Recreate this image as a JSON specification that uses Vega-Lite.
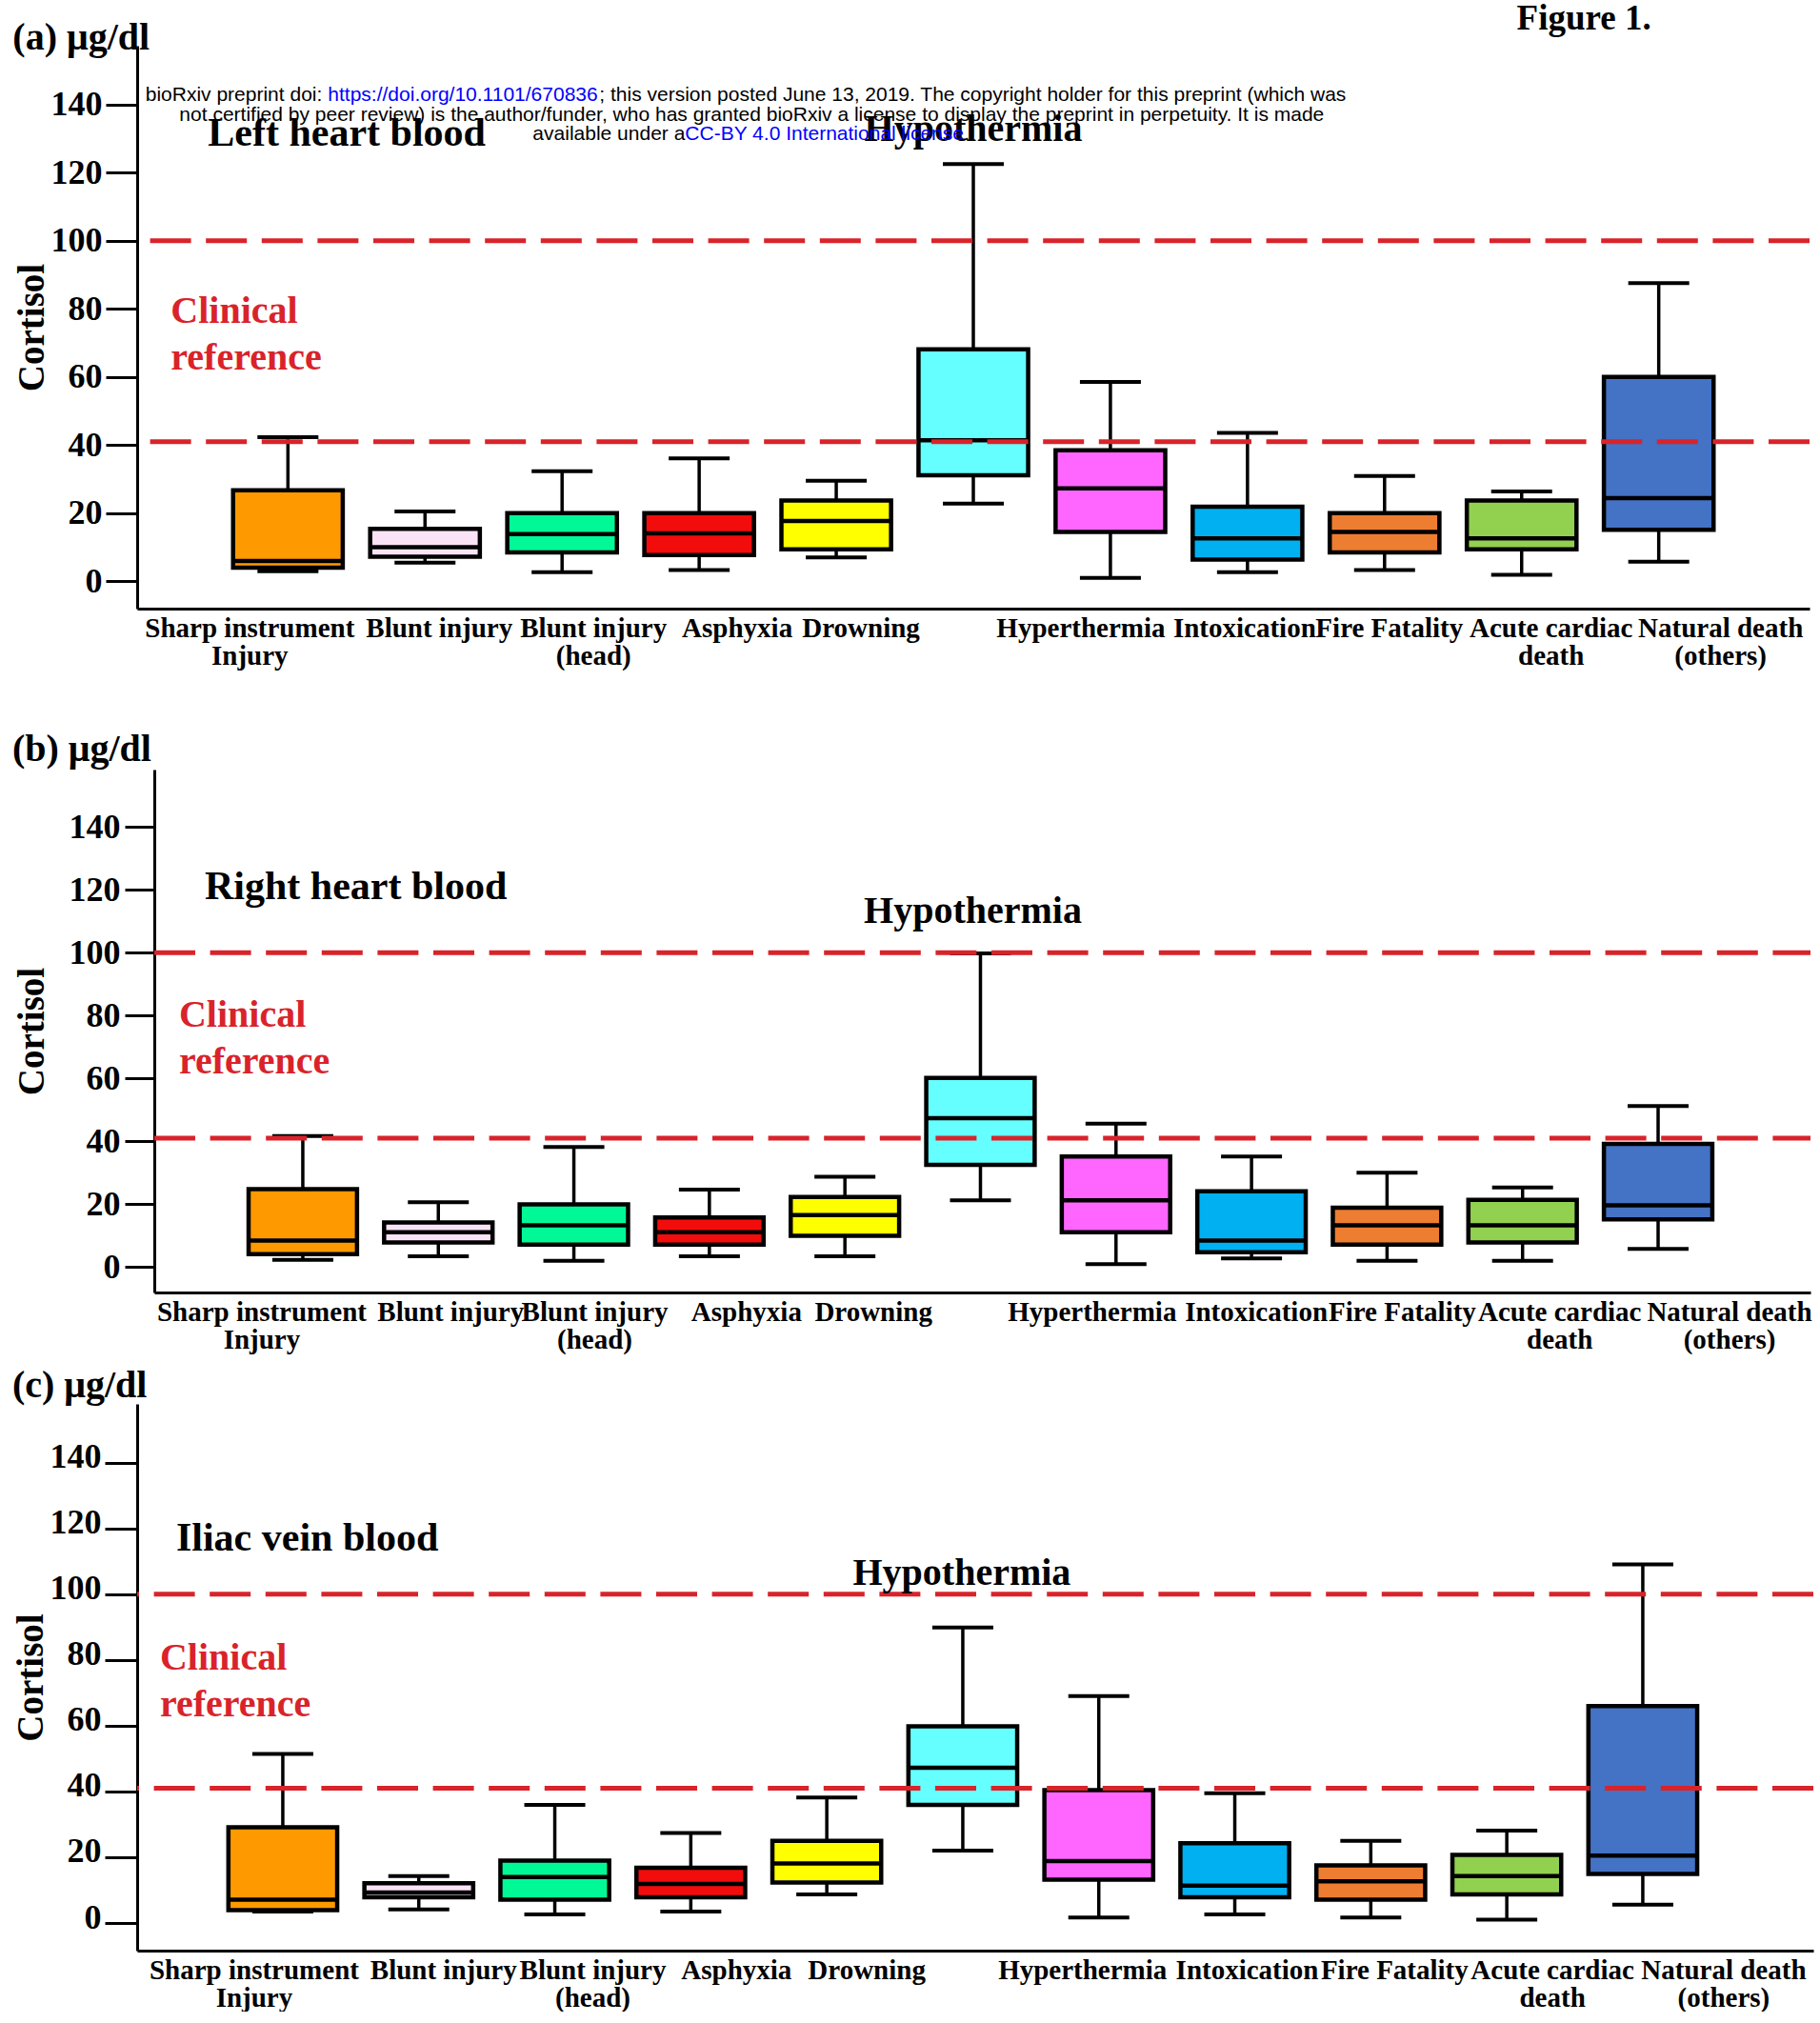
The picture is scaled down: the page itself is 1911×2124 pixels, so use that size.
{
  "$schema": "https://vega.github.io/schema/vega-lite/v6.json",
  "padding": {"left": 12, "top": 0, "right": 0, "bottom": 0},
  "background": "white",
  "spacing": 14,
  "resolve": {"scale": {"x": "independent", "y": "independent"}},
  "config": {
    "view": {"stroke": null},
    "axis": {"grid": false, "domainColor": "black", "domainWidth": 3, "tickColor": "black", "tickWidth": 3, "labelFont": "Liberation Serif", "labelFontWeight": "bold", "labelColor": "black", "titleFont": "Liberation Serif", "titleFontWeight": "bold", "titleColor": "black"},
    "text": {"font": "Liberation Serif", "fontWeight": "bold", "baseline": "alphabetic", "color": "black"}
  },
  "datasets": {
    "a": [
      {"cause": "Sharp instrument Injury", "min": 3, "q1": 4, "median": 6, "q3": 26.7, "max": 42.3},
      {"cause": "Blunt injury", "min": 5.5, "q1": 7.2, "median": 10, "q3": 15.4, "max": 20.5},
      {"cause": "Blunt injury (head)", "min": 2.7, "q1": 8.5, "median": 13.9, "q3": 20, "max": 32.3},
      {"cause": "Asphyxia", "min": 3.3, "q1": 7.7, "median": 14.1, "q3": 20, "max": 36.1},
      {"cause": "Drowning", "min": 7, "q1": 9.4, "median": 17.7, "q3": 23.7, "max": 29.5},
      {"cause": "Hypothermia", "min": 22.8, "q1": 31.1, "median": 41.4, "q3": 68.1, "max": 122.5},
      {"cause": "Hyperthermia", "min": 1, "q1": 14.5, "median": 27.3, "q3": 38.5, "max": 58.5},
      {"cause": "Intoxication", "min": 2.7, "q1": 6.4, "median": 12.6, "q3": 21.9, "max": 43.6},
      {"cause": "Fire Fatality", "min": 3.3, "q1": 8.5, "median": 14.5, "q3": 20, "max": 30.9},
      {"cause": "Acute cardiac death", "min": 1.9, "q1": 9.4, "median": 12.6, "q3": 23.7, "max": 26.4},
      {"cause": "Natural death (others)", "min": 5.8, "q1": 15.1, "median": 24.4, "q3": 60, "max": 87.5}
    ],
    "b": [
      {"cause": "Sharp instrument Injury", "min": 2.3, "q1": 4.1, "median": 8.4, "q3": 24.8, "max": 41.7},
      {"cause": "Blunt injury", "min": 3.4, "q1": 7.8, "median": 11.1, "q3": 14.2, "max": 20.6},
      {"cause": "Blunt injury (head)", "min": 2, "q1": 7.1, "median": 13.3, "q3": 19.9, "max": 38.2},
      {"cause": "Asphyxia", "min": 3.4, "q1": 7.1, "median": 11.1, "q3": 15.8, "max": 24.6},
      {"cause": "Drowning", "min": 3.4, "q1": 9.9, "median": 16.5, "q3": 22.3, "max": 28.7},
      {"cause": "Hypothermia", "min": 21.2, "q1": 32.5, "median": 47.4, "q3": 60.2, "max": 99.8},
      {"cause": "Hyperthermia", "min": 0.9, "q1": 11.1, "median": 21.2, "q3": 35.2, "max": 45.6},
      {"cause": "Intoxication", "min": 2.7, "q1": 4.7, "median": 8.4, "q3": 24.1, "max": 35.2},
      {"cause": "Fire Fatality", "min": 2, "q1": 7.1, "median": 13.3, "q3": 18.9, "max": 30},
      {"cause": "Acute cardiac death", "min": 2, "q1": 7.8, "median": 13.3, "q3": 21.4, "max": 25.3},
      {"cause": "Natural death (others)", "min": 5.8, "q1": 15.2, "median": 19.6, "q3": 39.2, "max": 51.2}
    ],
    "c": [
      {"cause": "Sharp instrument Injury", "min": 3.5, "q1": 3.9, "median": 7.1, "q3": 29.1, "max": 51.4},
      {"cause": "Blunt injury", "min": 4.1, "q1": 7.8, "median": 9.3, "q3": 12.1, "max": 14.3},
      {"cause": "Blunt injury (head)", "min": 2.6, "q1": 7.1, "median": 14, "q3": 19, "max": 35.9},
      {"cause": "Asphyxia", "min": 3.5, "q1": 7.8, "median": 11.9, "q3": 16.8, "max": 27.4},
      {"cause": "Drowning", "min": 8.7, "q1": 12.3, "median": 18.1, "q3": 25, "max": 38.2},
      {"cause": "Hypothermia", "min": 22, "q1": 35.9, "median": 47.2, "q3": 59.8, "max": 89.9},
      {"cause": "Hyperthermia", "min": 1.7, "q1": 13.2, "median": 18.8, "q3": 40.4, "max": 69},
      {"cause": "Intoxication", "min": 2.6, "q1": 7.8, "median": 11.4, "q3": 24.3, "max": 39.5},
      {"cause": "Fire Fatality", "min": 1.7, "q1": 7.1, "median": 12.7, "q3": 17.5, "max": 25},
      {"cause": "Acute cardiac death", "min": 1, "q1": 8.7, "median": 14.3, "q3": 20.7, "max": 28.1},
      {"cause": "Natural death (others)", "min": 5.6, "q1": 14.9, "median": 20.5, "q3": 66, "max": 109.1}
    ],
    "refs": [{"value": 41}, {"value": 100}]
  },
  "vconcat": [
    {
      "width": 1756, "height": 591,
      "data": {"name": "a"},
      "layer": [
        {"mark": {"type": "rule", "color": "black", "strokeWidth": 3.5},
         "encoding": {
           "x": {"field": "cause", "type": "nominal",
                 "scale": {"type": "band", "domain": ["Sharp instrument Injury", "Blunt injury", "Blunt injury (head)", "Asphyxia", "Drowning", "Hypothermia", "Hyperthermia", "Intoxication", "Fire Fatality", "Acute cardiac death", "Natural death (others)"], "paddingInner": 0.2, "paddingOuter": 0.7, "align": 0.5},
                 "axis": {"title": " ", "titleFontSize": 10, "titlePadding": 40, "ticks": false, "labelAngle": 0, "labelPadding": 6, "labelFontSize": 29, "labelLineHeight": 29, "labelLimit": 0, "labelOverlap": false, "labelBaseline": "top",
                   "labelExpr": "datum.value == 'Hypothermia' ? '' : datum.value == 'Sharp instrument Injury' ? ['Sharp instrument', 'Injury'] : datum.value == 'Blunt injury (head)' ? ['Blunt injury', '(head)'] : datum.value == 'Acute cardiac death' ? ['Acute cardiac', 'death'] : datum.value == 'Natural death (others)' ? ['Natural death', '(others)'] : datum.label",
                   "labelOffset": {"condition": [
                     {"test": "datum.value == 'Sharp instrument Injury'", "value": -40},
                     {"test": "datum.value == 'Blunt injury'", "value": 15},
                     {"test": "datum.value == 'Blunt injury (head)'", "value": 33},
                     {"test": "datum.value == 'Asphyxia'", "value": 40},
                     {"test": "datum.value == 'Drowning'", "value": 26},
                     {"test": "datum.value == 'Hyperthermia'", "value": -31},
                     {"test": "datum.value == 'Intoxication'", "value": -3},
                     {"test": "datum.value == 'Fire Fatality'", "value": 5},
                     {"test": "datum.value == 'Acute cardiac death'", "value": 31},
                     {"test": "datum.value == 'Natural death (others)'", "value": 65}
                   ], "value": 0}}},
           "y": {"field": "min", "type": "quantitative", "scale": {"domain": [-8, 157.2], "nice": false, "zero": false},
                 "axis": {"title": "Cortisol", "values": [0, 20, 40, 60, 80, 100, 120, 140], "tickSize": 33, "labelPadding": 4, "labelFontSize": 36, "titleFontSize": 39, "titlePadding": 0}},
           "y2": {"field": "max"}
         }},
        {"mark": {"type": "bar", "stroke": "black", "strokeWidth": 4.5},
         "encoding": {
           "x": {"field": "cause", "type": "nominal"},
           "y": {"field": "q1", "type": "quantitative"},
           "y2": {"field": "q3"},
           "color": {"field": "cause", "type": "nominal", "legend": null,
                     "scale": {"domain": ["Sharp instrument Injury", "Blunt injury", "Blunt injury (head)", "Asphyxia", "Drowning", "Hypothermia", "Hyperthermia", "Intoxication", "Fire Fatality", "Acute cardiac death", "Natural death (others)"],
                               "range": ["#FF9900", "#FBE3F7", "#00F996", "#F20C0C", "#FFFF00", "#66FFFF", "#FF66FF", "#00B0F0", "#ED7D31", "#92D050", "#4472C4"]}}
         }},
        {"mark": {"type": "tick", "color": "black", "opacity": 1, "thickness": 4.5, "size": 115},
         "encoding": {"x": {"field": "cause", "type": "nominal"}, "y": {"field": "median", "type": "quantitative"}}},
        {"mark": {"type": "tick", "color": "black", "opacity": 1, "thickness": 4, "size": 64},
         "encoding": {"x": {"field": "cause", "type": "nominal"}, "y": {"field": "min", "type": "quantitative"}}},
        {"mark": {"type": "tick", "color": "black", "opacity": 1, "thickness": 4, "size": 64},
         "encoding": {"x": {"field": "cause", "type": "nominal"}, "y": {"field": "max", "type": "quantitative"}}},
        {"data": {"name": "refs"},
         "mark": {"type": "rule", "color": "#D9232A", "strokeWidth": 5, "strokeDash": [43, 15.6]},
         "encoding": {"y": {"field": "value", "type": "quantitative"}}},
        {"data": {"values": [{"t": "(a) μg/dl"}]},
         "mark": {"type": "text", "fontSize": 40, "align": "left", "dx": -289},
         "encoding": {"x": {"datum": "Sharp instrument Injury", "type": "nominal"}, "y": {"datum": 156.1, "type": "quantitative"}, "text": {"field": "t"}}},
        {"data": {"values": [{"t": "Left heart blood"}]},
         "mark": {"type": "text", "fontSize": 42, "align": "left", "dx": -84},
         "encoding": {"x": {"datum": "Sharp instrument Injury", "type": "nominal"}, "y": {"datum": 127.8, "type": "quantitative"}, "text": {"field": "t"}}},
        {"data": {"values": [{"t": "Hypothermia"}]},
         "mark": {"type": "text", "fontSize": 40, "align": "center", "dx": 0},
         "encoding": {"x": {"datum": "Hypothermia", "type": "nominal"}, "y": {"datum": 129.2, "type": "quantitative"}, "text": {"field": "t"}}},
        {"data": {"values": [{"t": "Clinical\nreference"}]},
         "mark": {"type": "text", "fontSize": 40, "align": "left", "dx": -123, "color": "#D9232A", "lineBreak": "\n", "lineHeight": 49},
         "encoding": {"x": {"datum": "Sharp instrument Injury", "type": "nominal"}, "y": {"datum": 75.9, "type": "quantitative"}, "text": {"field": "t"}}},
        {"data": {"values": [{"t": "Figure 1."}]},
         "mark": {"type": "text", "fontSize": 37, "align": "right", "dx": -8},
         "encoding": {"x": {"datum": "Natural death (others)", "type": "nominal"}, "y": {"datum": 162, "type": "quantitative"}, "text": {"field": "t"}}},
        {"data": {"values": [{"t": "bioRxiv preprint doi:"}]},
         "mark": {"type": "text", "font": "Liberation Sans", "fontWeight": "normal", "fontSize": 21, "align": "right", "dx": 36},
         "encoding": {"x": {"datum": "Sharp instrument Injury", "type": "nominal"}, "y": {"datum": 141.0, "type": "quantitative"}, "text": {"field": "t"}}},
        {"data": {"values": [{"t": "https://doi.org/10.1101/670836"}]},
         "mark": {"type": "text", "font": "Liberation Sans", "fontWeight": "normal", "fontSize": 21, "align": "left", "dx": 42, "color": "#0000FF"},
         "encoding": {"x": {"datum": "Sharp instrument Injury", "type": "nominal"}, "y": {"datum": 141.0, "type": "quantitative"}, "text": {"field": "t"}}},
        {"data": {"values": [{"t": "; this version posted June 13, 2019. The copyright holder for this preprint (which was"}]},
         "mark": {"type": "text", "font": "Liberation Sans", "fontWeight": "normal", "fontSize": 21, "align": "left", "dx": 327},
         "encoding": {"x": {"datum": "Sharp instrument Injury", "type": "nominal"}, "y": {"datum": 141.0, "type": "quantitative"}, "text": {"field": "t"}}},
        {"data": {"values": [{"t": "not certified by peer review) is the author/funder, who has granted bioRxiv a license to display the preprint in perpetuity. It is made"}]},
         "mark": {"type": "text", "font": "Liberation Sans", "fontWeight": "normal", "fontSize": 21, "align": "center", "dx": 487},
         "encoding": {"x": {"datum": "Sharp instrument Injury", "type": "nominal"}, "y": {"datum": 135.1, "type": "quantitative"}, "text": {"field": "t"}}},
        {"data": {"values": [{"t": "available under a"}]},
         "mark": {"type": "text", "font": "Liberation Sans", "fontWeight": "normal", "fontSize": 21, "align": "right", "dx": 417},
         "encoding": {"x": {"datum": "Sharp instrument Injury", "type": "nominal"}, "y": {"datum": 129.5, "type": "quantitative"}, "text": {"field": "t"}}},
        {"data": {"values": [{"t": "CC-BY 4.0 International license"}]},
         "mark": {"type": "text", "font": "Liberation Sans", "fontWeight": "normal", "fontSize": 21, "align": "left", "dx": 417, "color": "#0000FF"},
         "encoding": {"x": {"datum": "Sharp instrument Injury", "type": "nominal"}, "y": {"datum": 129.5, "type": "quantitative"}, "text": {"field": "t"}}},
        {"data": {"values": [{"t": "."}]},
         "mark": {"type": "text", "font": "Liberation Sans", "fontWeight": "normal", "fontSize": 21, "align": "left", "dx": 710},
         "encoding": {"x": {"datum": "Sharp instrument Injury", "type": "nominal"}, "y": {"datum": 129.5, "type": "quantitative"}, "text": {"field": "t"}}}
      ]
    },
    {
      "width": 1757, "height": 549,
      "data": {"name": "b"},
      "resolve": {"scale": {"x": "independent"}},
      "layer": [
        {"layer": [
          {"mark": {"type": "rule", "color": "black", "strokeWidth": 3.5},
           "encoding": {
             "x": {"field": "cause", "type": "nominal",
                   "scale": {"type": "band", "domain": ["Sharp instrument Injury", "Blunt injury", "Blunt injury (head)", "Asphyxia", "Drowning", "Hypothermia", "Hyperthermia", "Intoxication", "Fire Fatality", "Acute cardiac death", "Natural death (others)"], "range": [18, 1757], "paddingInner": 0.2, "paddingOuter": 0.71, "align": 0.49},
                   "axis": {"title": null, "ticks": false, "labelAngle": 0, "labelPadding": 6, "labelFontSize": 29, "labelLineHeight": 29, "labelLimit": 0, "labelOverlap": false, "labelBaseline": "top",
                     "labelExpr": "datum.value == 'Hypothermia' ? '' : datum.value == 'Sharp instrument Injury' ? ['Sharp instrument', 'Injury'] : datum.value == 'Blunt injury (head)' ? ['Blunt injury', '(head)'] : datum.value == 'Acute cardiac death' ? ['Acute cardiac', 'death'] : datum.value == 'Natural death (others)' ? ['Natural death', '(others)'] : datum.label",
                     "labelOffset": {"condition": [
                       {"test": "datum.value == 'Sharp instrument Injury'", "value": -43},
                       {"test": "datum.value == 'Blunt injury'", "value": 13},
                       {"test": "datum.value == 'Blunt injury (head)'", "value": 22},
                       {"test": "datum.value == 'Asphyxia'", "value": 39},
                       {"test": "datum.value == 'Drowning'", "value": 30},
                       {"test": "datum.value == 'Hyperthermia'", "value": -25},
                       {"test": "datum.value == 'Intoxication'", "value": 5},
                       {"test": "datum.value == 'Fire Fatality'", "value": 16},
                       {"test": "datum.value == 'Acute cardiac death'", "value": 39},
                       {"test": "datum.value == 'Natural death (others)'", "value": 75}
                     ], "value": 0}}},
             "y": {"field": "min", "type": "quantitative", "scale": {"domain": [-8.1, 158.3], "nice": false, "zero": false},
                   "axis": {"title": "Cortisol", "offset": -18, "values": [0, 20, 40, 60, 80, 100, 120, 140], "tickSize": 31, "labelPadding": 5, "labelFontSize": 36, "titleFontSize": 39, "titlePadding": 19}},
             "y2": {"field": "max"}
           }},
          {"mark": {"type": "bar", "stroke": "black", "strokeWidth": 4.5},
           "encoding": {
             "x": {"field": "cause", "type": "nominal"},
             "y": {"field": "q1", "type": "quantitative"},
             "y2": {"field": "q3"},
             "color": {"field": "cause", "type": "nominal", "legend": null,
                       "scale": {"domain": ["Sharp instrument Injury", "Blunt injury", "Blunt injury (head)", "Asphyxia", "Drowning", "Hypothermia", "Hyperthermia", "Intoxication", "Fire Fatality", "Acute cardiac death", "Natural death (others)"],
                                 "range": ["#FF9900", "#FBE3F7", "#00F996", "#F20C0C", "#FFFF00", "#66FFFF", "#FF66FF", "#00B0F0", "#ED7D31", "#92D050", "#4472C4"]}}
           }},
          {"mark": {"type": "tick", "color": "black", "opacity": 1, "thickness": 4.5, "size": 114},
           "encoding": {"x": {"field": "cause", "type": "nominal"}, "y": {"field": "median", "type": "quantitative"}}},
          {"mark": {"type": "tick", "color": "black", "opacity": 1, "thickness": 4, "size": 64},
           "encoding": {"x": {"field": "cause", "type": "nominal"}, "y": {"field": "min", "type": "quantitative"}}},
          {"mark": {"type": "tick", "color": "black", "opacity": 1, "thickness": 4, "size": 64},
           "encoding": {"x": {"field": "cause", "type": "nominal"}, "y": {"field": "max", "type": "quantitative"}}},
          {"data": {"values": [{"t": "(b) μg/dl"}]},
           "mark": {"type": "text", "fontSize": 40, "align": "left", "dx": -305},
           "encoding": {"x": {"datum": "Sharp instrument Injury", "type": "nominal"}, "y": {"datum": 161.0, "type": "quantitative"}, "text": {"field": "t"}}},
          {"data": {"values": [{"t": "Right heart blood"}]},
           "mark": {"type": "text", "fontSize": 42, "align": "left", "dx": -103},
           "encoding": {"x": {"datum": "Sharp instrument Injury", "type": "nominal"}, "y": {"datum": 117.1, "type": "quantitative"}, "text": {"field": "t"}}},
          {"data": {"values": [{"t": "Hypothermia"}]},
           "mark": {"type": "text", "fontSize": 40, "align": "center", "dx": -8},
           "encoding": {"x": {"datum": "Hypothermia", "type": "nominal"}, "y": {"datum": 109.6, "type": "quantitative"}, "text": {"field": "t"}}},
          {"data": {"values": [{"t": "Clinical\nreference"}]},
           "mark": {"type": "text", "fontSize": 40, "align": "left", "dx": -130, "color": "#D9232A", "lineBreak": "\n", "lineHeight": 49},
           "encoding": {"x": {"datum": "Sharp instrument Injury", "type": "nominal"}, "y": {"datum": 76.5, "type": "quantitative"}, "text": {"field": "t"}}}
        ]},
        {"data": {"name": "refs"},
         "mark": {"type": "rule", "color": "#D9232A", "strokeWidth": 5, "strokeDash": [43, 15.6]},
         "encoding": {
           "x": {"datum": 0, "type": "quantitative", "scale": {"domain": [0, 1], "range": [18, 1757]}, "axis": null},
           "x2": {"datum": 1},
           "y": {"field": "value", "type": "quantitative"}}}
      ]
    },
    {
      "width": 1760, "height": 574,
      "data": {"name": "c"},
      "layer": [
        {"mark": {"type": "rule", "color": "black", "strokeWidth": 3.5},
         "encoding": {
           "x": {"field": "cause", "type": "nominal",
                 "scale": {"type": "band", "domain": ["Sharp instrument Injury", "Blunt injury", "Blunt injury (head)", "Asphyxia", "Drowning", "Hypothermia", "Hyperthermia", "Intoxication", "Fire Fatality", "Acute cardiac death", "Natural death (others)"], "paddingInner": 0.2, "paddingOuter": 0.7625, "align": 0.44},
                 "axis": {"title": null, "ticks": false, "labelAngle": 0, "labelPadding": 6, "labelFontSize": 29, "labelLineHeight": 29, "labelLimit": 0, "labelOverlap": false, "labelBaseline": "top",
                   "labelExpr": "datum.value == 'Hypothermia' ? '' : datum.value == 'Sharp instrument Injury' ? ['Sharp instrument', 'Injury'] : datum.value == 'Blunt injury (head)' ? ['Blunt injury', '(head)'] : datum.value == 'Acute cardiac death' ? ['Acute cardiac', 'death'] : datum.value == 'Natural death (others)' ? ['Natural death', '(others)'] : datum.label",
                   "labelOffset": {"condition": [
                     {"test": "datum.value == 'Sharp instrument Injury'", "value": -30},
                     {"test": "datum.value == 'Blunt injury'", "value": 26},
                     {"test": "datum.value == 'Blunt injury (head)'", "value": 40},
                     {"test": "datum.value == 'Asphyxia'", "value": 48},
                     {"test": "datum.value == 'Drowning'", "value": 42},
                     {"test": "datum.value == 'Hyperthermia'", "value": -17},
                     {"test": "datum.value == 'Intoxication'", "value": 13},
                     {"test": "datum.value == 'Fire Fatality'", "value": 25},
                     {"test": "datum.value == 'Acute cardiac death'", "value": 48},
                     {"test": "datum.value == 'Natural death (others)'", "value": 85}
                   ], "value": 0}}},
           "y": {"field": "min", "type": "quantitative", "scale": {"domain": [-8.4, 157.9], "nice": false, "zero": false},
                 "axis": {"title": "Cortisol", "values": [0, 20, 40, 60, 80, 100, 120, 140], "tickSize": 34, "labelPadding": 4, "labelOffset": -6, "labelFontSize": 36, "titleFontSize": 39, "titlePadding": 0}},
           "y2": {"field": "max"}
         }},
        {"mark": {"type": "bar", "stroke": "black", "strokeWidth": 4.5},
         "encoding": {
           "x": {"field": "cause", "type": "nominal"},
           "y": {"field": "q1", "type": "quantitative"},
           "y2": {"field": "q3"},
           "color": {"field": "cause", "type": "nominal", "legend": null,
                     "scale": {"domain": ["Sharp instrument Injury", "Blunt injury", "Blunt injury (head)", "Asphyxia", "Drowning", "Hypothermia", "Hyperthermia", "Intoxication", "Fire Fatality", "Acute cardiac death", "Natural death (others)"],
                               "range": ["#FF9900", "#FBE3F7", "#00F996", "#F20C0C", "#FFFF00", "#66FFFF", "#FF66FF", "#00B0F0", "#ED7D31", "#92D050", "#4472C4"]}}
         }},
        {"mark": {"type": "tick", "color": "black", "opacity": 1, "thickness": 4.5, "size": 114},
         "encoding": {"x": {"field": "cause", "type": "nominal"}, "y": {"field": "median", "type": "quantitative"}}},
        {"mark": {"type": "tick", "color": "black", "opacity": 1, "thickness": 4, "size": 64},
         "encoding": {"x": {"field": "cause", "type": "nominal"}, "y": {"field": "min", "type": "quantitative"}}},
        {"mark": {"type": "tick", "color": "black", "opacity": 1, "thickness": 4, "size": 64},
         "encoding": {"x": {"field": "cause", "type": "nominal"}, "y": {"field": "max", "type": "quantitative"}}},
        {"data": {"name": "refs"},
         "mark": {"type": "rule", "color": "#D9232A", "strokeWidth": 5, "strokeDash": [43, 15.6]},
         "encoding": {"y": {"field": "value", "type": "quantitative"}}},
        {"data": {"values": [{"t": "(c) μg/dl"}]},
         "mark": {"type": "text", "fontSize": 40, "align": "left", "dx": -284},
         "encoding": {"x": {"datum": "Sharp instrument Injury", "type": "nominal"}, "y": {"datum": 159.9, "type": "quantitative"}, "text": {"field": "t"}}},
        {"data": {"values": [{"t": "Iliac vein blood"}]},
         "mark": {"type": "text", "fontSize": 42, "align": "left", "dx": -112},
         "encoding": {"x": {"datum": "Sharp instrument Injury", "type": "nominal"}, "y": {"datum": 113.3, "type": "quantitative"}, "text": {"field": "t"}}},
        {"data": {"values": [{"t": "Hypothermia"}]},
         "mark": {"type": "text", "fontSize": 40, "align": "center", "dx": -1},
         "encoding": {"x": {"datum": "Hypothermia", "type": "nominal"}, "y": {"datum": 102.8, "type": "quantitative"}, "text": {"field": "t"}}},
        {"data": {"values": [{"t": "Clinical\nreference"}]},
         "mark": {"type": "text", "fontSize": 40, "align": "left", "dx": -129, "color": "#D9232A", "lineBreak": "\n", "lineHeight": 49},
         "encoding": {"x": {"datum": "Sharp instrument Injury", "type": "nominal"}, "y": {"datum": 77.0, "type": "quantitative"}, "text": {"field": "t"}}}
      ]
    }
  ]
}
